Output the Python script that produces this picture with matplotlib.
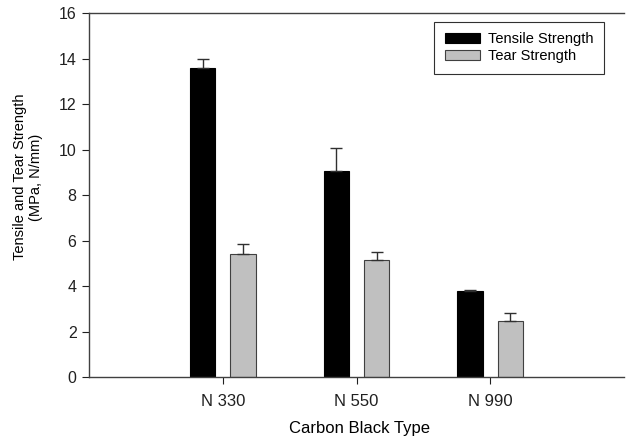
import matplotlib
matplotlib.use("Agg")
import matplotlib.pyplot as plt
import numpy as np

plt.rcParams['font.family'] = ['Liberation Sans', 'DejaVu Sans']

categories = ["N 330", "N 550", "N 990"]
tensile = [13.58, 9.07, 3.78]
tensile_err = [0.42, 1.01, 0.03]
tear = [5.42, 5.14, 2.46]
tear_err = [0.43, 0.35, 0.35]

fig = plt.figure(figsize=(6.26, 4.41), dpi=100)
ax = fig.add_axes([0.1422, 0.1451, 0.9968 - 0.1422, 0.9705 - 0.1451])

x = np.arange(1, len(categories) + 1)
w = 0.19
off = 0.15
ax.bar(x - off, tensile, w, color='black', edgecolor='black', linewidth=0.8,
       label='Tensile Strength', zorder=2)
ax.bar(x + off, tear, w, color='#c0c0c0', edgecolor='#404040', linewidth=0.8,
       label='Tear Strength', zorder=2)
ax.errorbar(x - off, tensile, yerr=[np.zeros(3), tensile_err], fmt='none',
            ecolor='#303030', elinewidth=1, capsize=4.3, capthick=1, zorder=3)
ax.errorbar(x + off, tear, yerr=[np.zeros(3), tear_err], fmt='none',
            ecolor='#303030', elinewidth=1, capsize=4.3, capthick=1, zorder=3)

ax.set_xlim(0, 4)
ax.set_ylim(0, 16)
ax.set_yticks(np.arange(0, 17, 2))
ax.set_xticks(x)
ax.set_xticklabels(categories)
ax.tick_params(axis='both', length=5, width=0.8, colors='#202020')
ax.tick_params(axis='y', labelsize=11.5, pad=4)
ax.tick_params(axis='x', labelsize=12, pad=7)
ax.spines['right'].set_visible(False)
for s in ['left', 'bottom', 'top']:
    ax.spines[s].set_color('#404040')
    ax.spines[s].set_linewidth(1)

ax.set_xlabel('Carbon Black Type', fontsize=12)
ax.xaxis.set_label_coords(0.505, -0.122)
ax.set_ylabel('Tensile and Tear Strength\n(MPa, N/mm)', fontsize=10.5)
ax.yaxis.set_label_coords(-0.086, 0.549)

leg = ax.legend(loc='upper right', bbox_to_anchor=(0.9626, 0.9745),
                borderaxespad=0, fancybox=False, framealpha=1, edgecolor='#303030',
                fontsize=10.5, handlelength=2.4, handleheight=0.7, borderpad=0.7,
                labelspacing=0.2, handletextpad=0.6)
leg.get_frame().set_linewidth(0.8)

fig.savefig('out.png', dpi=100)
